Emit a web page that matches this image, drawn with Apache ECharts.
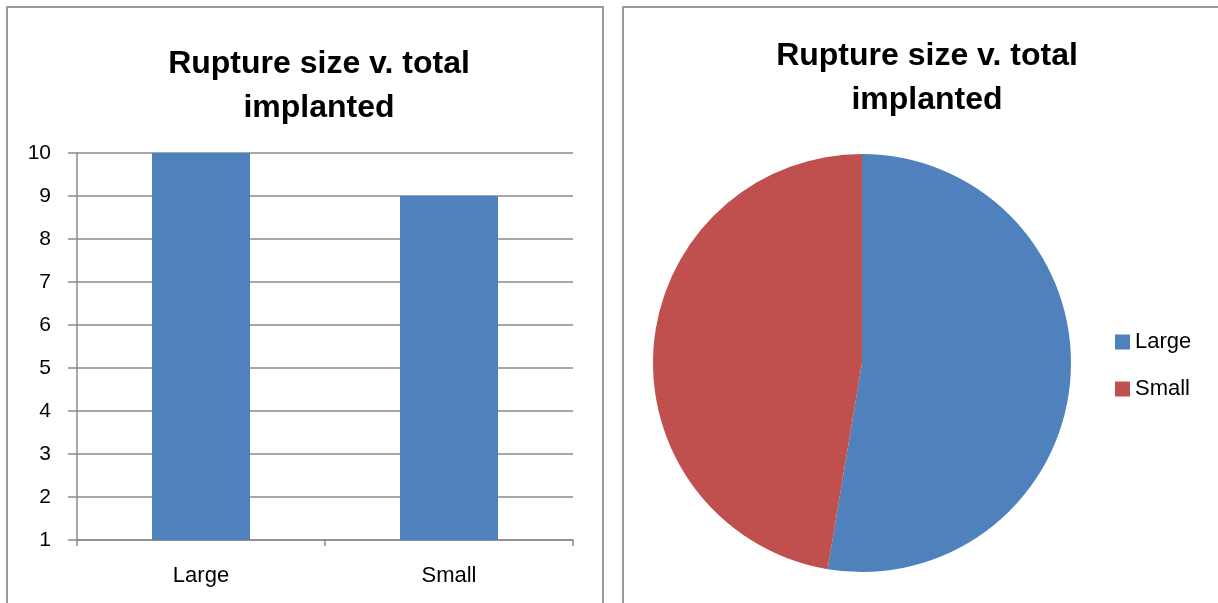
<!DOCTYPE html>
<html>
<head>
<meta charset="utf-8">
<script src="https://cdn.jsdelivr.net/npm/echarts@6/dist/echarts.min.js"></script>
<style>
  html, body { margin: 0; padding: 0; background: #fff; }
  #chart { width: 1218px; height: 603px; }
</style>
</head>
<body>
<div id="chart"></div>
<script>
// data
var categories = ['Large', 'Small'];
var ruptureCounts = [10, 9];
var yTicks = [1, 2, 3, 4, 5, 6, 7, 8, 9, 10];
var chartTitle = 'Rupture size v. total\nimplanted';

var font = '"Liberation Sans", Arial, sans-serif';
var grey = '#8a8a8a';
var colors = ['#4F81BD', '#C0504D'];

var pieData = [];
for (var i = 0; i < categories.length; i++) {
    pieData.push({ name: categories[i], value: ruptureCounts[i], itemStyle: { color: colors[i] } });
}

var option = {
    animation: false,
    textStyle: { fontFamily: font },
    title: [{
        text: chartTitle,
        left: 314, top: 37, textAlign: 'center',
        textStyle: { fontSize: 32, fontWeight: 'bold', color: '#000', lineHeight: 44, fontFamily: font }
    }, {
        text: chartTitle,
        left: 922, top: 29, textAlign: 'center',
        textStyle: { fontSize: 32, fontWeight: 'bold', color: '#000', lineHeight: 44, fontFamily: font }
    }],
    graphic: [
        { type: 'rect', shape: { x: 7, y: 7, width: 596, height: 620 }, style: { fill: 'none', stroke: '#999', lineWidth: 2 } },
        { type: 'rect', shape: { x: 623, y: 7, width: 620, height: 620 }, style: { fill: 'none', stroke: '#999', lineWidth: 2 } }
    ],
    grid: { left: 77, right: 645, top: 153, bottom: 63 },
    xAxis: {
        type: 'category',
        data: categories,
        axisLine: { lineStyle: { color: grey, width: 1.5 } },
        axisTick: { show: true, length: 6, lineStyle: { color: grey, width: 1.5 } },
        axisLabel: { color: '#000', fontSize: 22, margin: 25, fontFamily: font }
    },
    yAxis: {
        type: 'value',
        min: 1, max: 10, interval: 1,
        axisLine: { show: true, lineStyle: { color: grey, width: 1.5 } },
        axisTick: { show: true, length: 9, lineStyle: { color: grey, width: 1.5 } },
        splitLine: { lineStyle: { color: grey, width: 1.5 } },
        axisLabel: {
            color: '#000', fontSize: 21, margin: 26, fontFamily: font,
            formatter: function (v) { return yTicks.indexOf(v) >= 0 ? String(v) : ''; }
        }
    },
    legend: {
        orient: 'vertical',
        left: 1110, top: 326,
        itemWidth: 15, itemHeight: 15, itemGap: 25,
        itemTextGap: 6,
        icon: 'rect',
        data: categories,
        textStyle: { fontSize: 22, color: '#000', fontFamily: font }
    },
    series: [{
        type: 'bar',
        data: ruptureCounts,
        barWidth: 98,
        itemStyle: { color: colors[0] }
    }, {
        type: 'pie',
        center: [862, 363],
        radius: 209,
        startAngle: 90,
        clockwise: true,
        label: { show: false },
        labelLine: { show: false },
        itemStyle: { borderWidth: 0 },
        data: pieData
    }]
};

var myChart = echarts.init(document.getElementById('chart'));
myChart.setOption(option);
</script>
</body>
</html>
